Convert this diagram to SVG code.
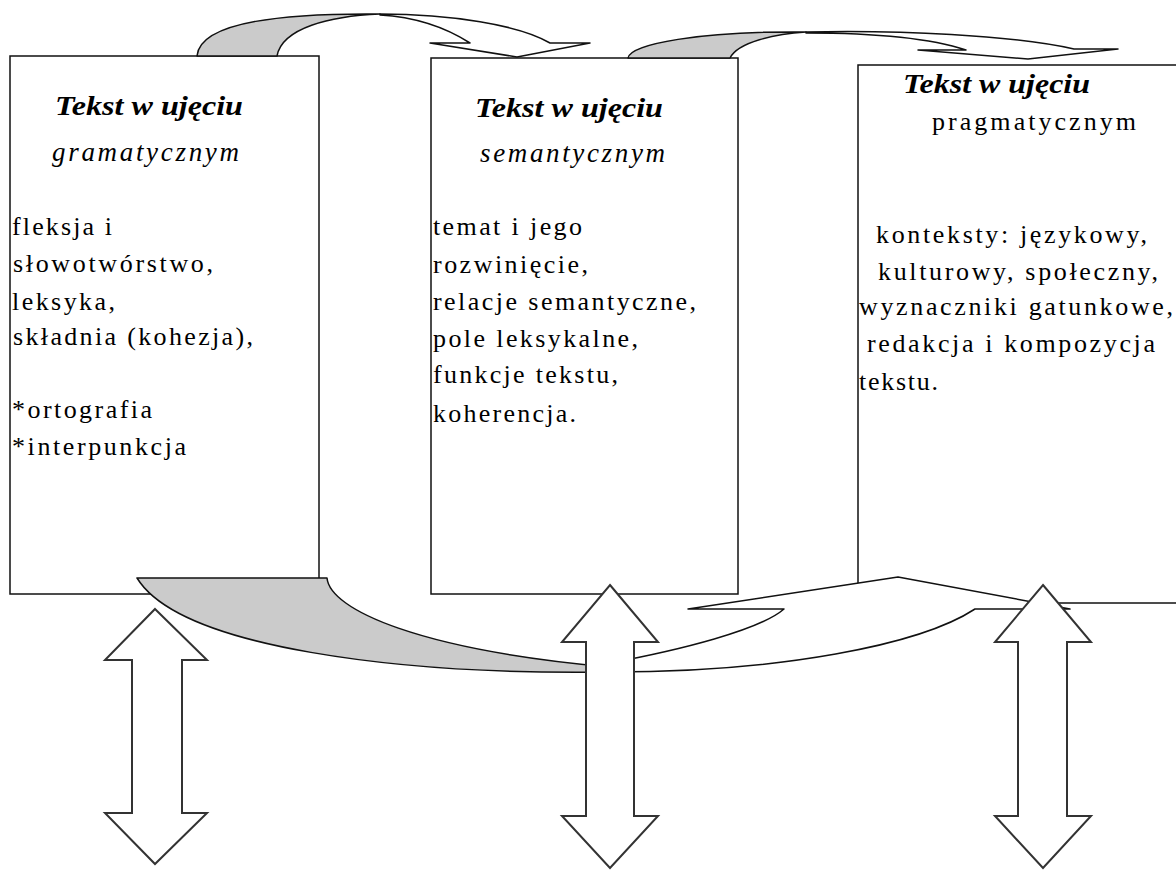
<svg xmlns="http://www.w3.org/2000/svg" width="1176" height="870" viewBox="0 0 1176 870">
<style>
.box{fill:#fff;stroke:#111;stroke-width:1.5}
.rib{stroke:#111;stroke-width:1.5;stroke-linejoin:round}
.g{fill:#cbcbcb}
.w{fill:#fff}
.arr{fill:#fff;stroke:#333;stroke-width:2;stroke-linejoin:miter}
text{font-family:"Liberation Serif","Times New Roman",serif;fill:#000}
.t{font-size:27px;font-weight:bold;font-style:italic}
.s{font-size:27px;font-style:italic}
.b{font-size:26px}
</style>
<rect width="1176" height="870" fill="#fff"/>
<g id="box1">
<rect class="box" x="10" y="56" width="309" height="538"/>
<text class="t" x="55" y="115" textLength="188" lengthAdjust="spacingAndGlyphs">Tekst w ujęciu</text>
<text class="s" x="52" y="161" textLength="187" lengthAdjust="spacing">gramatycznym</text>
<text class="b" x="12" y="235" textLength="100" lengthAdjust="spacing">fleksja i</text>
<text class="b" x="13" y="272" textLength="200" lengthAdjust="spacing">słowotwórstwo,</text>
<text class="b" x="12" y="310" textLength="103" lengthAdjust="spacing">leksyka,</text>
<text class="b" x="13" y="345" textLength="240" lengthAdjust="spacing">składnia (kohezja),</text>
<text class="b" x="12" y="418" textLength="140" lengthAdjust="spacing">*ortografia</text>
<text class="b" x="12" y="455" textLength="174" lengthAdjust="spacing">*interpunkcja</text>
</g>
<g id="box2">
<rect class="box" x="431" y="58" width="307" height="536"/>
<text class="t" x="475" y="117" textLength="188" lengthAdjust="spacingAndGlyphs">Tekst w ujęciu</text>
<text class="s" x="480" y="162" textLength="185" lengthAdjust="spacing">semantycznym</text>
<text class="b" x="433" y="235" textLength="149" lengthAdjust="spacing">temat i jego</text>
<text class="b" x="433" y="273" textLength="155" lengthAdjust="spacing">rozwinięcie,</text>
<text class="b" x="433" y="310" textLength="263" lengthAdjust="spacing">relacje semantyczne,</text>
<text class="b" x="433" y="347" textLength="205" lengthAdjust="spacing">pole leksykalne,</text>
<text class="b" x="433" y="383" textLength="185" lengthAdjust="spacing">funkcje tekstu,</text>
<text class="b" x="433" y="422" textLength="143" lengthAdjust="spacing">koherencja.</text>
</g>
<g id="box3">
<rect class="box" x="858" y="65" width="340" height="538"/>
<text class="t" x="903" y="93" textLength="187" lengthAdjust="spacingAndGlyphs">Tekst w ujęciu</text>
<text class="b" x="932" y="130" textLength="204" lengthAdjust="spacing">pragmatycznym</text>
<text class="b" x="876" y="243" textLength="271" lengthAdjust="spacing">konteksty: językowy,</text>
<text class="b" x="878" y="280" textLength="280" lengthAdjust="spacing">kulturowy, społeczny,</text>
<text class="b" x="859" y="315" textLength="314" lengthAdjust="spacing">wyznaczniki gatunkowe,</text>
<text class="b" x="867" y="352" textLength="288" lengthAdjust="spacing">redakcja i kompozycja</text>
<text class="b" x="859" y="390" textLength="79" lengthAdjust="spacing">tekstu.</text>
</g>
<g id="connectors">
<polygon id="arrow-left" class="arr" points="155,609 207,660 182,660 182,813 207,813 155,864 105,813 132,813 132,660 105,660"/>
<g id="top-arrow-1">
<path class="rib g" d="M197,56 C200,22 280,13 380,14 C330,16 282,28 277,56 Z"/>
<path class="rib w" d="M380,14 C450,14 520,25 550,43 L590,43 L517,57 L430,43 L470,43 C445,27 415,17 380,15 Z"/>
</g>
<g id="top-arrow-2">
<path class="rib g" d="M628,58 C630,44 700,31 806,32 C775,34 738,42 730,58 Z"/>
<path class="rib w" d="M806,32 C900,30 1010,35 1074,49 L1118,49 L1028,59 L918,50 L966,50 C930,38 870,33 806,33 Z"/>
</g>
<g id="bottom-arrow">
<path class="rib g" d="M137,578 L327,578 C330,610 420,650 610,667 L610,672 C400,675 180,648 137,578 Z"/>
<path class="rib w" d="M610,663 C680,650 760,630 784,609 L688,609 L898,577 L1070,609 L975,609 C920,645 780,672 610,672 Z"/>
</g>
<polygon id="arrow-mid" class="arr" points="610,585 658,642 634,642 634,816 658,816 610,868 562,816 586,816 586,642 562,642"/>
<polygon id="arrow-right" class="arr" points="1043,585 1091,642 1067,642 1067,816 1091,816 1043,868 995,816 1018,816 1018,642 995,642"/>
</g>
</svg>
